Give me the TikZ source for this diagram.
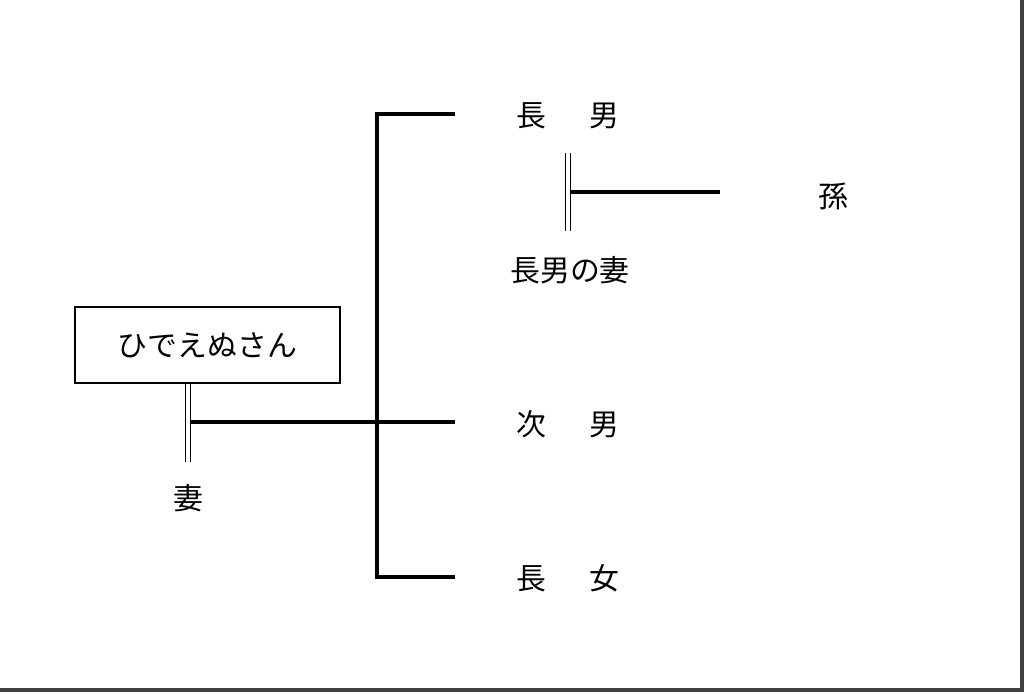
\documentclass[tikz,border=0pt]{standalone}
\usepackage{fontspec}
\setmainfont{Noto Sans CJK JP}
\usetikzlibrary{calc, positioning}

\begin{document}
\begin{tikzpicture}[
  x=0.02cm, y=-0.02cm,
  font=\fontsize{17}{20}\selectfont,
  thk/.style={line width=2pt, black},
  dbl/.style={double, double distance=2.2pt, line width=0.7pt, black},
  hbox/.style={draw, line width=0.8pt, minimum width=5.3cm, minimum height=1.52cm},
  nm/.style={inner sep=1pt},
]

% --- Page frame (shadow on right and bottom) ---
\useasboundingbox (0,0) rectangle (1024,694);
\draw[line width=2.5pt, black!75] (0,690) -- (1022,690) -- (1022,0);

% --- Head of the family and his wife ---
\node[hbox] (hide) at (207.5,345) {ひでえぬさん};
\node[nm] (tsuma) at (188,498) {妻};
\coordinate (tsumaend) at (188,462);
\draw[dbl] (hide.south -| tsuma) -- (tsumaend);

% --- Children ---
\node[nm] (chonan) at (568,116) {長\hspace{1.45em}男};
\node[nm] (jinan)  at (568,424) {次\hspace{1.45em}男};
\node[nm] (choujo) at (568,578) {長\hspace{1.45em}女};

\coordinate (fam) at (190,422);
\coordinate (top) at (377,114);
\coordinate (bot) at (377,577);
\coordinate (e1) at (455,114);
\coordinate (e2) at (455,422);
\coordinate (e3) at (455,577);

\draw[thk] (fam) -- (e2);
\draw[thk] (e1) -- (top) -- (bot) -- (e3);

% --- Eldest son's wife and grandchild ---
\node[nm] (yome) at (570,270) {長男の妻};
\node[nm] (mago) at (833,196) {孫};
\coordinate (m2top) at (568,153);
\coordinate (m2bot) at (568,231);
\coordinate (m2) at (570,192);
\coordinate (m2end) at (720,192);

\draw[dbl] (m2top) -- (m2bot);
\draw[thk] (m2) -- (m2end);

\end{tikzpicture}
\end{document}
